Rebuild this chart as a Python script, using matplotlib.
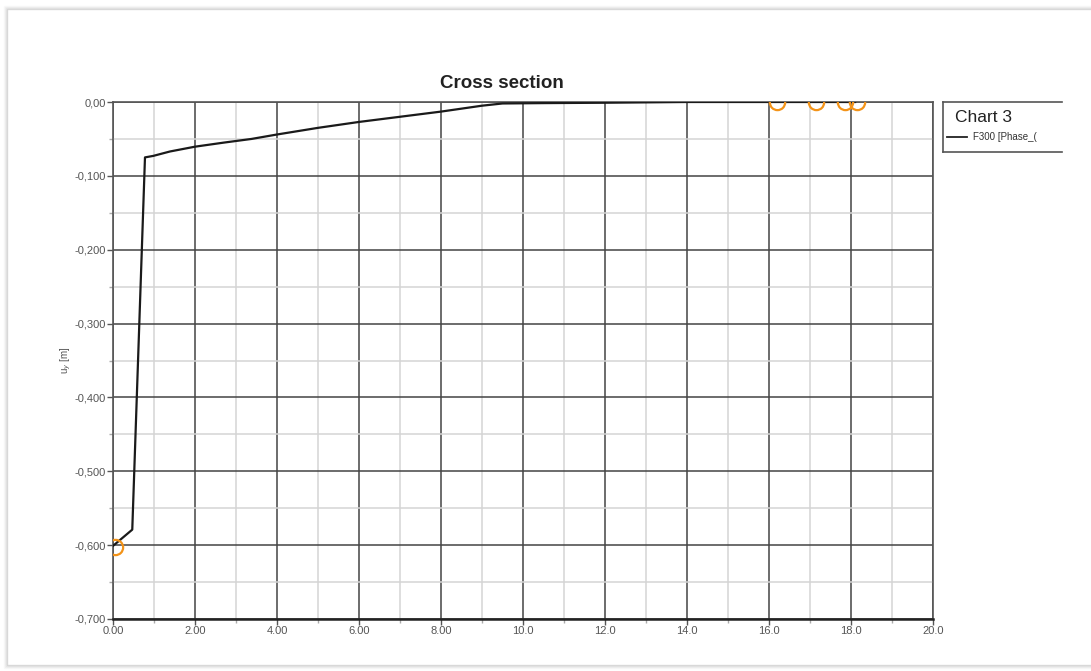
import matplotlib
matplotlib.use("Agg")
import matplotlib.pyplot as plt
from matplotlib.patches import Rectangle
from matplotlib.lines import Line2D

plt.rcParams['font.family'] = ['Liberation Sans', 'DejaVu Sans']

# curve F300 [Phase_...] : distance along cross section vs vertical displacement
dist = [0.0, 0.47, 0.78, 0.98, 1.39, 2.0, 2.7, 3.38, 4.0, 5.0, 6.0, 7.0, 8.0,
        9.0, 9.5, 10.5, 12.0, 14.0, 16.2, 17.1, 17.9, 18.1]
uy = [-0.601, -0.579, -0.075, -0.073, -0.067, -0.0605, -0.055, -0.050, -0.044,
      -0.035, -0.027, -0.020, -0.013, -0.005, -0.002, -0.0015, -0.001, 0.0,
      0.0, 0.0, 0.0, 0.0]

# orange markers (section points)
mark_x = [0.05, 16.2, 17.15, 17.85, 18.15]
mark_y = [-0.602, 0.0, 0.0, 0.0, 0.0]

x_ticks = [0, 2, 4, 6, 8, 10, 12, 14, 16, 18, 20]
x_labels = ["0.00", "2.00", "4.00", "6.00", "8.00", "10.0", "12.0", "14.0",
            "16.0", "18.0", "20.0"]
y_ticks = [0.0, -0.1, -0.2, -0.3, -0.4, -0.5, -0.6, -0.7]
y_labels = ["0,00", "-0,100", "-0,200", "-0,300", "-0,400", "-0,500",
            "-0,600", "-0,700"]

W, H = 1091, 671
fig = plt.figure(figsize=(W / 100, H / 100), dpi=100)

# window frame with a soft shadow
for i, a in enumerate([0.3, 0.18, 0.1, 0.05]):
    fig.add_artist(Rectangle(((7 - i) / W, (H - 665 - i) / H),
                             (W + 10) / W, (665 - 9 + 2 * i) / H,
                             transform=fig.transFigure, fill=False,
                             edgecolor='#888888', alpha=a, lw=1))

ax = fig.add_axes([113 / W, 1 - 619 / H, 820 / W, 517 / H])
ax.plot(dist, uy, color='#1a1a1a', lw=1.6, zorder=3)
ax.plot(mark_x, mark_y, 'o', ms=11, mfc='none', mec='#f39318', mew=1.6,
        zorder=4)

ax.set_xlim(0, 20)
ax.set_ylim(-0.7, 0)
ax.set_xticks(x_ticks)
ax.set_xticklabels(x_labels)
ax.set_yticks(y_ticks)
ax.set_yticklabels(y_labels)
ax.set_xticks(range(1, 20, 2), minor=True)
ax.set_yticks([-0.05 - 0.1 * i for i in range(7)], minor=True)

ax.grid(True, which='major', color='#444444', lw=1.1)
ax.grid(True, which='minor', color='#d4d4d4', lw=1.1)
ax.set_axisbelow(True)
ax.tick_params(which='major', length=4, width=1, color='#555555',
               labelsize=8, labelcolor='#555555', pad=1)
ax.tick_params(which='minor', length=3, width=1, color='#aaaaaa')
for s in ax.spines.values():
    s.set_color('#555555')
    s.set_linewidth(1.2)
ax.spines['bottom'].set_color('#222222')
ax.spines['bottom'].set_linewidth(1.8)

ax.set_ylabel("u$_y$ [m]", fontsize=7, color='#555555', labelpad=1)

fig.text(502 / W, 1 - 84 / H, "Cross section", ha='center', va='center',
         fontsize=13.5, fontweight='bold', color='#222222')

# legend box (cut off at the right edge of the window)
lax = fig.add_axes([943 / W, 1 - 152 / H, 119 / W, 50 / H])
lax.set_xlim(0, 1)
lax.set_ylim(0, 1)
lax.set_xticks([])
lax.set_yticks([])
lax.spines['right'].set_visible(False)
for s in ['left', 'top', 'bottom']:
    lax.spines[s].set_color('#555555')
    lax.spines[s].set_linewidth(1.2)
t1 = lax.text(0.1, 0.7, "Chart 3", fontsize=12.5, color='#222222',
              va='center', ha='left')
lax.add_line(Line2D([0.03, 0.2], [0.3, 0.3], color='#222222', lw=1.3))
t2 = lax.text(0.25, 0.3, "F300 [Phase_(", fontsize=7, color='#333333',
              va='center', ha='left')
t1.set_clip_on(True)
t2.set_clip_on(True)

fig.savefig("out.png", dpi=100)
